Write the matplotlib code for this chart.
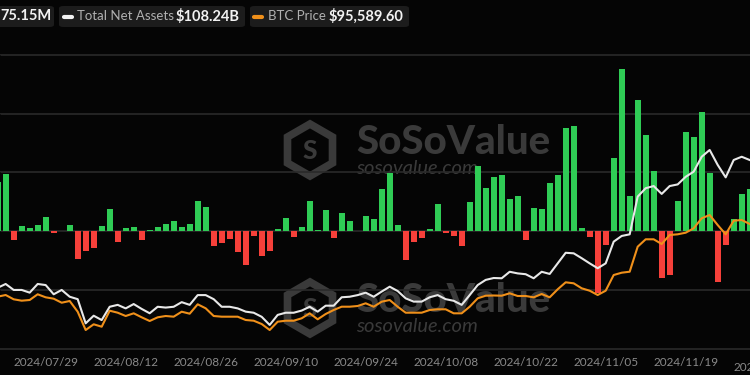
import matplotlib.pyplot as plt
import numpy as np
import pandas as pd
from matplotlib.patches import FancyBboxPatch, RegularPolygon

# daily total net inflow (US$ M), one value per trading day from 2024/07/19
flows_m = [420, 483, -71, 43, 28, 51, 125, -14, 0, 51,
           -236, -165, -145, 45, 193, -88, 27, 40, -77, 14,
           37, 62, 88, 40, 65, 255, 204, -122, -99, -68,
           -173, -288, -37, -213, -167, 23, 113, -45, 37, 261,
           9, 184, -54, 156, 88, 3, 133, 102, 360, 494,
           57, -244, -94, -60, 20, 233, -17, -43, -122, 250,
           556, 369, 458, 474, 275, 298, -77, 196, 190, 406,
           482, 873, 896, 31, -51, -525, -113, 624, 1381, 298,
           1117, 819, 513, -400, -372, 255, 840, 800, 1010, 493,
           -434, -119, 105, 320, 355]

# total net assets (US$ B)
net_assets_b = [61.1, 62.5, 60.3, 60.3, 59.3, 62.5, 62.1, 58.7, 60.3, 57.8,
                56.9, 48.0, 50.8, 49.2, 54.1, 54.8, 53.5, 55.1, 53.3, 51.7,
                54.1, 53.8, 54.1, 55.8, 54.8, 58.4, 58.4, 56.9, 54.1, 54.1,
                53.5, 52.3, 51.9, 50.4, 47.4, 51.1, 51.9, 51.9, 52.7, 54.1,
                52.3, 54.5, 54.5, 57.6, 57.8, 58.4, 59.3, 57.8, 59.7, 61.5,
                59.9, 57.2, 56.0, 56.0, 57.6, 58.4, 56.9, 56.3, 54.8, 58.4,
                62.1, 64.0, 64.7, 64.6, 67.0, 66.4, 66.1, 64.6, 67.0, 66.2,
                70.1, 74.0, 73.8, 72.0, 70.1, 68.3, 70.1, 78.1, 80.2, 80.8,
                94.7, 97.8, 98.6, 95.7, 98.6, 99.2, 102.0, 103.9, 109.4, 111.9,
                106.4, 101.8, 108.2, 109.4, 108.2]

# BTC price (US$)
btc_price = [67000, 67650, 65970, 65430, 65700, 67930, 66750, 66210, 64640, 65310,
             61130, 53980, 56210, 55270, 61520, 60740, 59450, 60500, 58940, 57500,
             58940, 59450, 59180, 61130, 60350, 64020, 62460, 59450, 59180, 59180,
             59180, 57890, 57610, 56320, 53980, 57220, 57610, 57610, 58550, 60500,
             58160, 60230, 61790, 63080, 63080, 63360, 64410, 63080, 65040, 65700,
             63080, 60740, 60740, 60740, 61790, 62070, 62070, 60500, 60500, 63080,
             66360, 67380, 67460, 67380, 68320, 67260, 67260, 66750, 68040, 66750,
             69880, 72610, 72220, 70270, 69330, 67650, 69330, 75460, 76360, 76750,
             86520, 89410, 89410, 87570, 91090, 91360, 91990, 93710, 97610, 98900,
             94990, 91360, 96670, 96950, 95380]

holidays = ['2024-09-02', '2024-11-28']
tick_dates = ['2024/07/29', '2024/08/12', '2024/08/26', '2024/09/10', '2024/09/24',
              '2024/10/08', '2024/10/22', '2024/11/05', '2024/11/19', '2024/12/04']

dates = pd.bdate_range('2024-07-19', periods=len(flows_m) + 3, freq='C', holidays=holidays)
date_labels = [d.strftime('%Y/%m/%d') for d in dates]
x = np.arange(len(flows_m))

BG = '#050505'
GRID = '#2a2a2a'
GREEN = '#2fcc55'
RED = '#f6403a'
WHITE_LINE = '#e8e8e8'
ORANGE = '#f0901a'
WM = '#3a3a3a'

plt.rcParams['font.family'] = ['Lato', 'DejaVu Sans']

fig = plt.figure(figsize=(7.5, 3.75), dpi=100, facecolor=BG)
ax = fig.add_axes([0, 26 / 375, 1, 349 / 375])
ax.set_facecolor('none')

# watermark (two copies), behind everything
for dy in (0, 158):
    # icon: pointy-top hexagon, placed in inches so it stays regular
    hexa = RegularPolygon((3.10, 3.75 - (150 + dy) / 100), numVertices=6, radius=0.26,
                          orientation=0, fc='none', ec=WM, lw=5.5,
                          transform=fig.dpi_scale_trans, zorder=-2)
    fig.patches.append(hexa)
    fig.text(310 / 750, 1 - (151 + dy) / 375, 'S', fontsize=19, fontweight='black',
             color=WM, ha='center', va='center', zorder=-2)
    fig.text(356 / 750, 1 - (143 + dy) / 375, 'SoSoValue', fontsize=29,
             fontweight='black', color=WM, ha='left', va='center', zorder=-2)
    fig.text(356 / 750, 1 - (169 + dy) / 375, 'sosovalue.com', fontsize=14.5,
             style='italic', color=WM, ha='left', va='center', zorder=-2)

# bars
colors = [GREEN if v >= 0 else RED for v in flows_m]
ax.bar(x, flows_m, width=0.74, color=colors, zorder=2)

ax.set_xlim(0.29, 94.04)
ax.set_ylim(-1000, 1964)
ax.set_yticks([-500, 0, 500, 1000, 1500])
ax.grid(axis='y', color=GRID, linewidth=1.2, zorder=0)
ax.tick_params(axis='y', left=False, labelleft=False)
for s in ['left', 'right', 'top']:
    ax.spines[s].set_visible(False)
ax.spines['bottom'].set_color(GRID)
ax.spines['bottom'].set_linewidth(1.2)

tick_pos = [date_labels.index(t) for t in tick_dates[:-1]]
ax.set_xticks(tick_pos)
ax.set_xticklabels(tick_dates[:-1], fontsize=8.5, color='#8a8a8a')
ax.tick_params(axis='x', length=0, pad=6)
# last label sits half outside the right edge, as in the cropped original
last = date_labels.index(tick_dates[-1])
ax.text(last, -0.038, tick_dates[-1], transform=ax.get_xaxis_transform(),
        fontsize=8.5, color='#8a8a8a', ha='center', va='top', clip_on=False)

# lines on hidden twin axes
ax_btc = ax.twinx()
ax_btc.plot(x, btc_price, color=ORANGE, linewidth=1.5, zorder=3)
ax_btc.set_ylim(46560, 182880)
ax_nav = ax.twinx()
ax_nav.plot(x, net_assets_b, color=WHITE_LINE, linewidth=1.5, zorder=3)
ax_nav.set_ylim(38.53, 167.18)
for a in (ax_btc, ax_nav):
    a.set_xlim(0.29, 94.04)
    a.axis('off')

# header legend boxes
def box(x0, x1):
    p = FancyBboxPatch((x0 / 750, 1 - 27 / 375), (x1 - x0) / 750, 21 / 375,
                       boxstyle='round,pad=0,rounding_size=0.006',
                       transform=fig.transFigure, fc='#1c1c1c', ec='none')
    fig.patches.append(p)

def dash(x0, x1, color):
    fig.add_artist(plt.Line2D([x0 / 750, x1 / 750], [1 - 16.5 / 375] * 2,
                              transform=fig.transFigure, color=color,
                              linewidth=3, solid_capstyle='round'))

ty = 1 - 16.5 / 375
box(-20, 54)
fig.text(51 / 750, ty, '75.15M', fontsize=10.5, fontweight='bold', color='#f2f2f2',
         ha='right', va='center')
box(59, 245)
dash(64, 72, '#f2f2f2')
fig.text(77 / 750, ty, 'Total Net Assets', fontsize=9.5, color='#b0b0b0', ha='left', va='center')
fig.text(176 / 750, ty, '$108.24B', fontsize=10.5, fontweight='bold', color='#f2f2f2',
         ha='left', va='center')
box(250, 409)
dash(254, 262, ORANGE)
fig.text(268 / 750, ty, 'BTC Price', fontsize=9.5, color='#b0b0b0', ha='left', va='center')
fig.text(329 / 750, ty, '$95,589.60', fontsize=10.5, fontweight='bold', color='#f2f2f2',
         ha='left', va='center')

fig.savefig('out.png', dpi=100, facecolor=BG)
